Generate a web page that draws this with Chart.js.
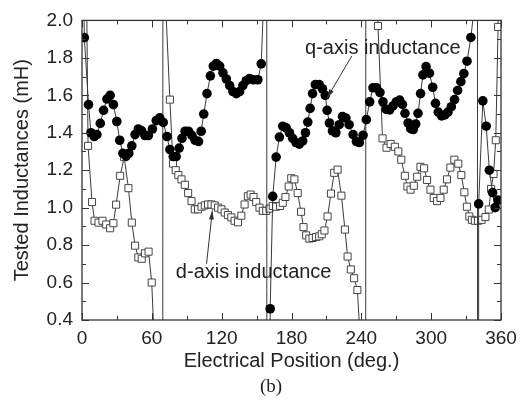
<!DOCTYPE html>
<html>
<head>
<meta charset="utf-8">
<script src="https://cdn.jsdelivr.net/npm/chart.js@4.4.0/dist/chart.umd.min.js"></script>
<style>
  html, body { margin: 0; padding: 0; background: #fff; }
</style>
</head>
<body>
<canvas id="chart" width="531" height="403"></canvas>
<script>
// q-axis inductance (filled circles), positions in degrees
const qPos = [0, 2.0, 5.6, 7.7, 10.5, 12.8, 15.7, 18.5, 21.4, 24.2, 27.0, 29.9, 32.4, 35.1, 37.9, 40.2,
  42.8, 45.6, 48.4, 51.3, 54.1, 57.0, 60.5, 63.8, 66.8, 69.8, 73.0, 75.5, 78.4, 80.9, 83.5, 85.9,
  88.6, 91.5, 94.4, 97.2, 100.1, 102.4, 104.6, 107.4, 110.3, 112.8, 115.5, 118.3, 121.1, 124.0,
  126.9, 129.7, 132.6, 135.4, 138.2, 141.1, 144.0, 147.4, 151.1, 154.0, 156.6, 157.8, 159.8, 161.7,
  163.9, 166.8, 169.6, 172.5, 175.4, 178.2, 181.0, 183.9, 186.7, 189.6, 192.0, 194.0, 196.0, 198.1,
  200.5, 203.8, 206.6, 209.0, 210.6, 212.6, 215.2, 218.1, 221.0, 223.8, 226.7, 229.5, 232.9, 235.8,
  238.3, 241.5, 244.3, 247.2, 250.0, 253.0, 256.0, 258.6, 261.4, 264.3, 267.2, 270.0, 272.9, 275.3,
  277.5, 280.2, 282.4, 284.6, 286.7, 288.7, 290.9, 292.9, 295.6, 298.5, 301.3, 303.7, 306.1, 309.0,
  311.7, 314.4, 317.3, 320.1, 322.7, 325.5, 328.1, 330.8, 334.1, 337.6, 339.3, 340.3, 340.8, 344.4,
  347.3, 350.0, 352.8, 355.0, 357.5];
const qVal = [3.0, 1.908, 1.55, 1.40, 1.38, 1.39, 1.45, 1.52, 1.58, 1.60, 1.55, 1.46, 1.36, 1.29, 1.275, 1.29,
  1.33, 1.39, 1.42, 1.41, 1.385, 1.385, 1.42, 1.465, 1.48, 1.455, 1.38, 1.31, 1.273, 1.273, 1.318, 1.37,
  1.408, 1.408, 1.386, 1.36, 1.353, 1.408, 1.50, 1.609, 1.704, 1.756, 1.77, 1.756, 1.72, 1.687,
  1.652, 1.62, 1.609, 1.62, 1.652, 1.678, 1.69, 1.683, 1.683, 1.768, 2.2, 60, -60, 0.46,
  1.06, 1.27, 1.377, 1.435, 1.426, 1.40, 1.37, 1.348, 1.339, 1.356, 1.40, 1.457, 1.53, 1.609,
  1.657, 1.657, 1.635, 1.60, 1.52, 1.452, 1.41, 1.40, 1.443, 1.487, 1.478, 1.443, 1.39, 1.353,
  1.348, 1.387, 1.47, 1.565, 1.64, 1.64, 1.615, 1.565, 1.525, 1.522, 1.543, 1.565, 1.574, 1.551,
  1.504, 1.452, 1.422, 1.417, 1.447, 1.504, 1.609, 1.709, 1.753, 1.718, 1.643, 1.557, 1.51, 1.49,
  1.495, 1.51, 1.539, 1.577, 1.626, 1.673, 1.716, 1.782, 1.909, 2.1, 60, -60, 1.02, 1.57,
  1.435, 1.20, 1.08, 1.00, 1.04];

// d-axis inductance (open squares)
const dPos = [1.9, 5.2, 8.6, 10.8, 14.2, 17.6, 20.8, 24.2, 27.0, 29.3, 32.8, 36.2, 39.9, 42.8, 45.6, 48.4,
  51.3, 54.1, 57.2, 59.9, 63.2, 66.5, 69.5, 75.5, 78.2, 80.5, 82.8, 85.5, 88.4, 91.2, 94.1, 96.9,
  99.7, 102.7, 105.5, 108.3, 111.2, 114.0, 116.9, 119.8, 122.6, 125.4, 128.3, 131.1, 134.0, 136.9,
  139.7, 142.5, 144.9, 147.4, 149.7, 152.5, 155.3, 158.3, 161.1, 163.9, 166.8, 170.2, 172.5, 174.8,
  177.6, 179.8, 182.5, 185.3, 188.2, 190.3, 192.6, 195.3, 198.1, 201.0, 203.8, 206.0, 208.3, 211.0,
  213.9, 216.7, 219.6, 222.9, 225.9, 228.2, 231.0, 233.8, 236.6, 239.4, 241.5, 246.0, 254.3, 258.2,
  261.6, 265.2, 268.8, 271.8, 274.3, 277.4, 279.6, 282.3, 285.1, 288.0, 290.8, 293.9, 296.5, 299.4,
  302.2, 305.0, 308.0, 310.8, 313.6, 316.5, 319.9, 323.3, 325.9, 328.5, 330.7, 332.8, 335.0, 337.5,
  340.2, 343.3, 346.6, 349.5, 351.5, 353.6, 355.5, 357.5, 360.0];
const dVal = [3.5, 1.33, 1.03, 0.93, 0.92, 0.93, 0.91, 0.89, 0.917, 1.016, 1.17, 1.27, 1.104, 0.92, 0.797, 0.734,
  0.727, 0.756, 0.765, 0.60, 0.13, -60, 2.42, 1.577, 1.235, 1.20, 1.174, 1.151, 1.122, 1.078, 1.035, 0.991,
  0.991, 1.005, 1.012, 1.017, 1.017, 1.012, 1.0, 0.991, 0.974, 0.96, 0.948, 0.93, 0.922, 0.957,
  1.017, 1.061, 1.07, 1.057, 1.03, 1.0, 0.983, 0.983, 0.995, 1.009, 1.005, 1.009, 1.026, 1.057,
  1.113, 1.157, 1.151, 1.078, 0.978, 0.896, 0.852, 0.835, 0.838, 0.843, 0.847, 0.858, 0.878, 0.953,
  1.075, 1.186, 1.203, 1.064, 0.883, 0.739, 0.67, 0.623, 0.56, 0.26, -60, 60, 1.97, 1.37,
  1.32, 1.34, 1.325, 1.30, 1.256, 1.17, 1.113, 1.096, 1.117, 1.165, 1.218, 1.21, 1.148, 1.096,
  1.052, 1.035, 1.052, 1.096, 1.151, 1.214, 1.256, 1.235, 1.174, 1.082, 1.005, 0.953, 0.935, 0.93,
  0.93, 0.935, 0.95, 0.99, 1.10, 1.18, 1.36, 1.965, 3.5];

const xTicks = [0, 60, 120, 180, 240, 300, 360];
const xMinor = [30, 90, 150, 210, 270, 330];
const yTicks = [0.4, 0.6, 0.8, 1.0, 1.2, 1.4, 1.6, 1.8, 2.0];
const yMinor = [0.5, 0.7, 0.9, 1.1, 1.3, 1.5, 1.7, 1.9];

const FONT = "'Liberation Sans', Arial, sans-serif";
const INK = '#222';
const LINE = '#3a3a3a';

const toPoints = (xs, ys) => xs.map((x, i) => ({ x: x, y: ys[i] }));

// frame, inward ticks, callouts and the (b) caption
const decorations = {
    id: 'decorations',
    afterDraw(chart) {
        const { ctx, chartArea: a, scales: { x, y } } = chart;
        ctx.save();
        ctx.strokeStyle = '#333';
        ctx.lineWidth = 1.3;
        ctx.strokeRect(a.left, a.top, a.right - a.left, a.bottom - a.top);

        ctx.lineWidth = 1;
        const seg = (x1, y1, x2, y2) => {
            ctx.beginPath(); ctx.moveTo(x1, y1); ctx.lineTo(x2, y2); ctx.stroke();
        };
        xTicks.forEach(v => {
            const px = Math.round(x.getPixelForValue(v)) + 0.5;
            seg(px, a.bottom, px, a.bottom - 7);
            seg(px, a.top, px, a.top + 7);
        });
        xMinor.forEach(v => {
            const px = Math.round(x.getPixelForValue(v)) + 0.5;
            seg(px, a.bottom, px, a.bottom - 4);
            seg(px, a.top, px, a.top + 4);
        });
        yTicks.forEach(v => {
            const py = Math.round(y.getPixelForValue(v)) + 0.5;
            seg(a.left, py, a.left + 7, py);
            seg(a.right, py, a.right - 7, py);
        });
        yMinor.forEach(v => {
            const py = Math.round(y.getPixelForValue(v)) + 0.5;
            seg(a.left, py, a.left + 4, py);
            seg(a.right, py, a.right - 4, py);
        });

        // callout arrows
        const arrow = (x1, y1, x2, y2) => {
            const sx = x.getPixelForValue(x1), sy = y.getPixelForValue(y1);
            const ex = x.getPixelForValue(x2), ey = y.getPixelForValue(y2);
            const ang = Math.atan2(ey - sy, ex - sx);
            ctx.strokeStyle = '#333';
            ctx.fillStyle = '#333';
            ctx.lineWidth = 1;
            seg(sx, sy, ex, ey);
            ctx.beginPath();
            ctx.moveTo(ex, ey);
            ctx.lineTo(ex - 9 * Math.cos(ang) + 2.5 * Math.sin(ang), ey - 9 * Math.sin(ang) - 2.5 * Math.cos(ang));
            ctx.lineTo(ex - 9 * Math.cos(ang) - 2.5 * Math.sin(ang), ey - 9 * Math.sin(ang) + 2.5 * Math.cos(ang));
            ctx.closePath();
            ctx.fill();
        };
        arrow(231.8, 1.81, 210.5, 1.585);
        arrow(107.0, 0.70, 112.0, 0.985);

        ctx.fillStyle = INK;
        ctx.font = '20px ' + FONT;
        ctx.textAlign = 'center';
        ctx.textBaseline = 'middle';
        ctx.fillText('q-axis inductance', x.getPixelForValue(258.5), y.getPixelForValue(1.85));
        ctx.fillText('d-axis inductance', x.getPixelForValue(147.5), y.getPixelForValue(0.655));

        ctx.font = "19px 'Liberation Serif', 'Times New Roman', serif";
        ctx.fillText('(b)', 271, 387);
        ctx.restore();
    }
};

new Chart(document.getElementById('chart'), {
    type: 'line',
    data: {
        datasets: [
            {
                label: 'q-axis inductance',
                data: toPoints(qPos, qVal),
                borderColor: LINE,
                borderWidth: 1,
                pointStyle: 'circle',
                pointRadius: 4.8,
                pointBackgroundColor: '#000',
                pointBorderColor: '#000',
                pointBorderWidth: 0,
                tension: 0,
                order: 1
            },
            {
                label: 'd-axis inductance',
                data: toPoints(dPos, dVal),
                borderColor: LINE,
                borderWidth: 1,
                pointStyle: 'rect',
                pointRadius: 5,
                pointBackgroundColor: '#fff',
                pointBorderColor: '#444',
                pointBorderWidth: 1,
                tension: 0,
                order: 2
            }
        ]
    },
    options: {
        responsive: false,
        animation: false,
        events: [],
        layout: { padding: { top: 13, right: 30, bottom: 0, left: 0 } },
        plugins: { legend: { display: false }, tooltip: { enabled: false } },
        scales: {
            x: {
                type: 'linear',
                min: 0,
                max: 360,
                afterFit: s => { s.height = 83; },
                afterBuildTicks: s => { s.ticks = xTicks.map(v => ({ value: v })); },
                grid: { display: false, drawTicks: false },
                border: { display: false },
                ticks: {
                    color: INK, padding: 7, maxRotation: 0, autoSkip: false,
                    font: { family: FONT, size: 19 }
                },
                title: {
                    display: true, text: 'Electrical Position (deg.)', color: INK,
                    font: { family: FONT, size: 20 }, padding: { top: 0, bottom: 30 }
                }
            },
            y: {
                min: 0.4,
                max: 2.0,
                afterFit: s => { s.width = 82; },
                afterBuildTicks: s => { s.ticks = yTicks.map(v => ({ value: v })); },
                grid: { display: false, drawTicks: false },
                border: { display: false },
                ticks: {
                    color: INK, padding: 9, autoSkip: false,
                    font: { family: FONT, size: 19 },
                    callback: v => Number(v).toFixed(1)
                },
                title: {
                    display: true, text: 'Tested Inductances (mH)', color: INK,
                    font: { family: FONT, size: 20 }, padding: { top: 10, bottom: 0 }
                }
            }
        }
    },
    plugins: [decorations]
});
</script>
</body>
</html>
